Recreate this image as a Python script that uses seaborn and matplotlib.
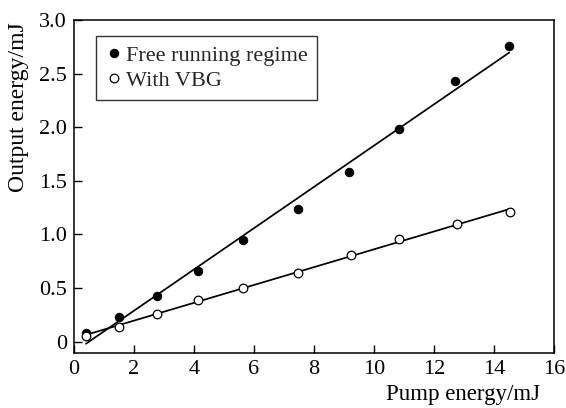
import matplotlib
matplotlib.use("Agg")
import matplotlib.pyplot as plt
import seaborn as sns
import pandas as pd
import numpy as np

# Data
pump_free = [0.40, 1.51, 2.76, 4.12, 5.64, 7.46, 9.18, 10.84, 12.71, 14.51]
out_free = [0.084, 0.228, 0.426, 0.660, 0.949, 1.238, 1.586, 1.980, 2.430, 2.760]
pump_vbg = [0.40, 1.51, 2.76, 4.12, 5.64, 7.46, 9.22, 10.84, 12.76, 14.53]
out_vbg = [0.056, 0.140, 0.260, 0.389, 0.500, 0.644, 0.806, 0.955, 1.098, 1.207]
x_ticks = [0, 2, 4, 6, 8, 10, 12, 14, 16]
y_ticks = [0, 0.5, 1.0, 1.5, 2.0, 2.5, 3.0]
y_tick_labels = ["0", "0.5", "1.0", "1.5", "2.0", "2.5", "3.0"]
series_names = ["Free running regime", "With VBG"]

sns.set_theme(style="ticks")
plt.rcParams['font.family'] = ['Liberation Serif', 'DejaVu Serif']

FS = 16

df_free = pd.DataFrame({"x": pump_free, "y": out_free})
df_vbg = pd.DataFrame({"x": pump_vbg, "y": out_vbg})

fig = plt.figure(figsize=(5.66, 4.08), dpi=100)
ax = fig.add_axes([0.1307, 0.135, 0.848, 0.816])

sns.regplot(data=df_free, x="x", y="y", ax=ax, scatter=False, ci=None,
            line_kws=dict(color="black", lw=1.25, zorder=2))
sns.regplot(data=df_vbg, x="x", y="y", ax=ax, scatter=False, ci=None,
            line_kws=dict(color="black", lw=1.25, zorder=2))

ax.plot(df_free["x"], df_free["y"], ls="none", marker="o", ms=6.0,
        mfc="black", mec="black", mew=0.8, zorder=3, label=series_names[0])
ax.plot(df_vbg["x"], df_vbg["y"], ls="none", marker="o", ms=6.2,
        mfc="white", mec="black", mew=0.9, zorder=3, label=series_names[1])

ax.set_xlim(0, 16)
ax.set_ylim(-0.105, 3.0)
ax.set_xticks(x_ticks)
ax.set_xticklabels([str(t) for t in x_ticks])
ax.set_yticks(y_ticks)
ax.set_yticklabels(y_tick_labels)
ax.tick_params(direction="in", length=6, width=1, labelsize=FS, colors="black",
               top=False, right=False, pad=5)
for s in ax.spines.values():
    s.set_linewidth(1.1)
    s.set_color("black")
    s.set_visible(True)

ax.set_xlabel("")
ax.set_ylabel("")
fig.text(19 / 566, 1 - 107.5 / 408, "Output energy/mJ", rotation=90,
         ha="center", va="center", fontsize=17, color="black")
fig.text(0.954, 0.032, "Pump energy/mJ", ha="right", va="center",
         fontsize=16.5, color="black")

leg = ax.legend(loc="upper left", bbox_to_anchor=(0.045, 0.952), frameon=True,
                fancybox=False, edgecolor="black", fontsize=FS,
                handletextpad=0.15, handlelength=0.8, borderpad=0.42,
                labelspacing=0.2, borderaxespad=0)
leg.get_frame().set_linewidth(1.0)

fig.savefig("out.png", dpi=100)
